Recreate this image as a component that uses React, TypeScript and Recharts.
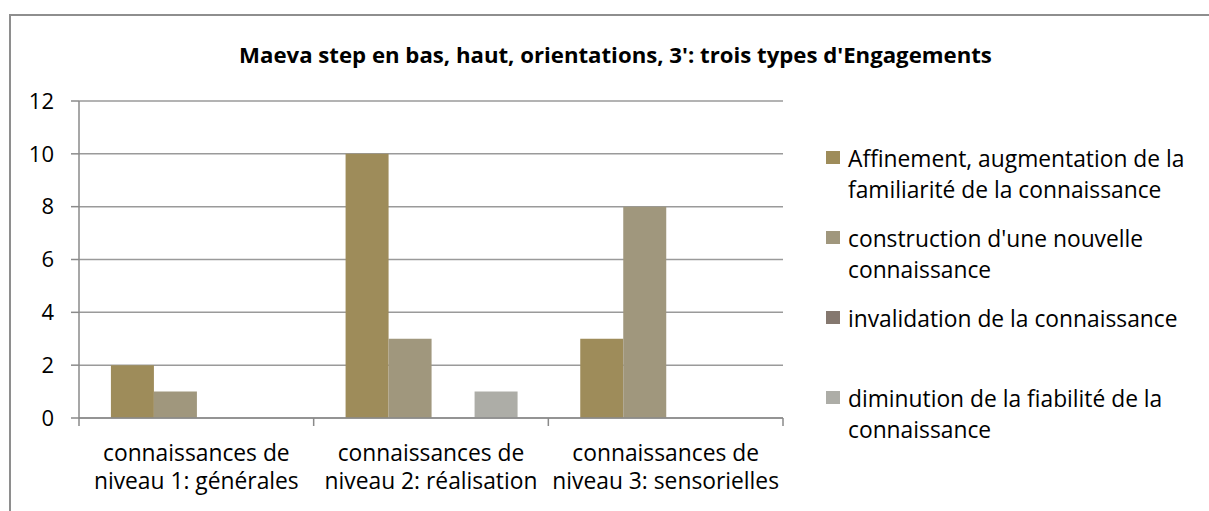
import React from "react";
import { BarChart, Bar, XAxis, YAxis, CartesianGrid, Legend } from "recharts";

const title = "Maeva step en bas, haut, orientations, 3': trois types d'Engagements";
const categories = [
  "connaissances de niveau 1: générales",
  "connaissances de niveau 2: réalisation",
  "connaissances de niveau 3: sensorielles",
];
const seriesNames = [
  "Affinement, augmentation de la familiarité de la connaissance",
  "construction d'une nouvelle connaissance",
  "invalidation de la connaissance",
  "diminution de la fiabilité de la connaissance",
];
const affinement = [2, 10, 3];
const construction = [1, 3, 8];
const invalidation = [0, 0, 0];
const diminution = [0, 1, 0];
const seriesColors = ["#9E8C5A", "#A0977D", "#85786F", "#ADADA7"];
const yTicks = [0, 2, 4, 6, 8, 10, 12];

const seriesValues = [affinement, construction, invalidation, diminution];
const keys = ["s0", "s1", "s2", "s3"];
const data = categories.map((c, i) => {
  const row: any = { name: c };
  keys.forEach((k, j) => (row[k] = seriesValues[j][i]));
  return row;
});

const FONT = "'Open Sans', sans-serif";
const AXIS = "#8A8A8A";
const FS = 22.8;

const CatTick = (props: any) => {
  const { x, y, payload, index, visibleTicksCount } = props;
  const s: string = payload.value;
  const cut = s.indexOf(" niveau");
  const l1 = s.slice(0, cut);
  const l2 = s.slice(cut + 1);
  const half = payload.offset || 0;
  const last = index === (visibleTicksCount ?? categories.length) - 1;
  return (
    <g>
      <line x1={x - half} x2={x - half} y1={y} y2={y + 8} stroke={AXIS} strokeWidth={1.5} />
      {last && <line x1={x + half} x2={x + half} y1={y} y2={y + 8} stroke={AXIS} strokeWidth={1.5} />}
      <text x={x} y={y} textAnchor="middle" fill="#000" fontSize={FS} fontFamily={FONT}>
        <tspan x={x} y={y + 43}>{l1}</tspan>
        <tspan x={x} y={y + 71}>{l2}</tspan>
      </text>
    </g>
  );
};

const LegendContent = () => (
  <div style={{ fontFamily: FONT, fontSize: FS, color: "#000" }}>
    {seriesNames.map((n, i) => (
      <div key={n} style={{ position: "relative", height: 80, width: 380 }}>
        <div
          style={{
            position: "absolute",
            left: 0,
            top: 8,
            width: 14,
            height: 13,
            background: seriesColors[i],
          }}
        />
        <div style={{ position: "absolute", left: 22, top: 0, width: 360, lineHeight: "31px", whiteSpace: "normal" }}>{n}</div>
      </div>
    ))}
  </div>
);

export default function App() {
  return (
    <div style={{ position: "absolute", left: 0, top: 0, width: 1209, height: 511, overflow: "hidden", background: "#fff" }}>
      <div
        style={{
          position: "absolute",
          left: 9,
          top: 14,
          width: 1300,
          height: 600,
          border: "2px solid #8E8E8E",
          boxSizing: "border-box",
        }}
      />
      <div
        style={{
          position: "absolute",
          left: 0,
          width: 1231,
          top: 40,
          textAlign: "center",
          fontFamily: FONT,
          fontWeight: 700,
          fontSize: 22.2,
          lineHeight: "30px",
          color: "#000",
          whiteSpace: "nowrap",
        }}
      >
        {title}
      </div>
      <div style={{ position: "absolute", left: 0, top: 0 }}>
        <BarChart
          width={1209}
          height={511}
          data={data}
          margin={{ top: 101, right: 426, bottom: 13, left: 0 }}
          barCategoryGap="13.6%"
          barGap={0}
        >
          <CartesianGrid vertical={false} stroke="#9A9A9A" strokeWidth={1.5} />
          <XAxis
            dataKey="name"
            height={80}
            tickSize={0}
            tickMargin={0}
            tickLine={false}
            interval={0}
            axisLine={{ stroke: AXIS, strokeWidth: 1.5 }}
            tick={<CatTick />}
          />
          <YAxis
            domain={[0, 12]}
            ticks={yTicks}
            width={79}
            tickSize={8}
            tickMargin={17}
            axisLine={{ stroke: AXIS, strokeWidth: 1.5 }}
            tickLine={{ stroke: AXIS, strokeWidth: 1.5 }}
            tick={{ fill: "#000", fontSize: 22, fontFamily: FONT }}
            interval={0}
          />
          {keys.map((k, i) => (
            <Bar key={k} dataKey={k} name={seriesNames[i]} fill={seriesColors[i]} isAnimationActive={false} />
          ))}
          <Legend
            layout="vertical"
            align="center"
            verticalAlign="middle"
            content={<LegendContent />}
            wrapperStyle={{ position: "absolute", left: 826, top: 143, width: 380 }}
          />
        </BarChart>
      </div>
    </div>
  );
}
